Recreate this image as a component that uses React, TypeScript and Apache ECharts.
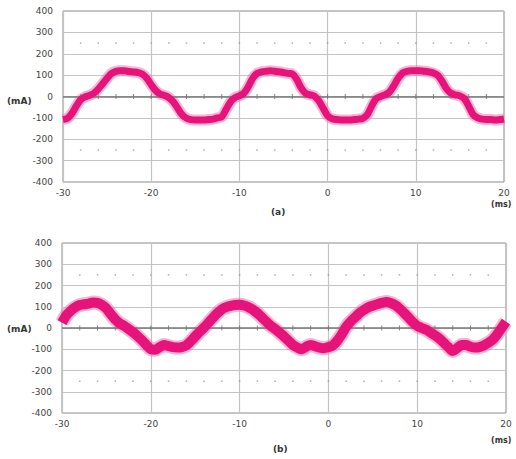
import React, { useEffect, useRef } from "react";
import * as echarts from "echarts";

// time axis (ms), 0.5 ms steps from -30 to 20
const timeMs: number[] = Array.from({ length: 101 }, (_, i) => -30 + i * 0.5);

// (a) current, mA
const currentA: number[] = [
  -108, -102, -80, -45, -15, -2, 5, 15, 35, 60,
  85, 108, 118, 120, 120, 117, 115, 112, 105, 85,
  55, 28, 12, 5, -5, -25, -55, -85, -102, -108,
  -110, -110, -110, -108, -106, -100, -95, -60, -25, -5,
  3, 15, 45, 85, 108, 115, 118, 120, 118, 116,
  112, 108, 105, 80, 40, 15, 8, 2, -20, -55,
  -90, -104, -108, -110, -110, -110, -108, -106, -102, -85,
  -45, -10, 0, 8, 20, 50, 85, 110, 118, 120,
  120, 120, 118, 115, 110, 98, 70, 35, 15, 8,
  3, -10, -45, -85, -100, -106, -108, -108, -110, -108,
  -105,
];

// (b) current, mA
const currentB: number[] = [
  25, 60, 82, 98, 108, 112, 115, 120, 118, 108,
  92, 65, 40, 22, 10, -5, -20, -38, -58, -80,
  -100, -102, -90, -80, -85, -90, -92, -90, -82, -62,
  -40, -18, 2, 25, 48, 70, 88, 98, 104, 108,
  110, 106, 98, 86, 70, 50, 30, 10, -5, -22,
  -40, -60, -80, -92, -100, -88, -80, -86, -92, -95,
  -90, -82, -60, -30, 5, 30, 50, 70, 85, 98,
  105, 112, 118, 122, 118, 108, 92, 72, 50, 28,
  10, 0, -8, -22, -35, -50, -70, -90, -108, -95,
  -80, -80, -88, -92, -90, -82, -70, -55, -30, 0,
  30,
];

const zeroTicks: number[] = [-28, -26, -24, -22, -20, -18, -16, -14, -12, -10, -8, -6, -4, -2, 0, 2, 4, 6, 8, 10, 12, 14, 16, 18];
const dotLevels: number[] = [250, -250];

const FONT = "DejaVu Sans";
const WAVE = "#E6137B";
const FRINGE = "#F07AAF";

function buildGridSeries(idx: number, values: number[], width: number) {
  const pairs = timeMs.map((t, i) => [t, values[i]]);
  const ticks = zeroTicks.map((t) => [t, 0]);
  const dots: number[][] = [];
  dotLevels.forEach((lv) => zeroTicks.forEach((t) => dots.push([t, lv])));
  return [
    {
      type: "scatter",
      xAxisIndex: idx,
      yAxisIndex: idx,
      data: ticks,
      symbol: "rect",
      symbolSize: [1, 5],
      itemStyle: { color: "#666" },
      silent: true,
      z: 2,
      markLine: {
        silent: true,
        symbol: "none",
        label: { show: false },
        lineStyle: { color: "#777", width: 1.5, type: "solid" },
        data: [{ yAxis: 0 }],
      },
    },
    {
      type: "scatter",
      xAxisIndex: idx,
      yAxisIndex: idx,
      data: dots,
      symbol: "rect",
      symbolSize: [1.5, 1.5],
      itemStyle: { color: "#999" },
      silent: true,
      z: 2,
    },
    {
      type: "line",
      xAxisIndex: idx,
      yAxisIndex: idx,
      data: pairs,
      showSymbol: false,
      smooth: 0.3,
      lineStyle: { color: FRINGE, width: width + 4, opacity: 0.55, join: "round", cap: "butt" },
      silent: true,
      z: 4,
    },
    {
      type: "line",
      xAxisIndex: idx,
      yAxisIndex: idx,
      data: pairs,
      showSymbol: false,
      smooth: 0.3,
      lineStyle: { color: WAVE, width: width, join: "round", cap: "butt" },
      silent: true,
      z: 5,
    },
  ];
}

export default function App() {
  const ref = useRef<HTMLDivElement>(null);
  useEffect(() => {
    if (!ref.current) return;
    const chart = echarts.init(ref.current, undefined, { renderer: "svg" });
    const axisLabel = { color: "#444", fontFamily: FONT, fontSize: 9 };
    const xAxisBase = {
      type: "value",
      min: -30,
      max: 20,
      interval: 10,
      axisLine: { show: false },
      axisTick: { show: false },
      axisLabel: { ...axisLabel, margin: 6 },
      splitLine: { show: true, lineStyle: { color: "#c4c4c4", width: 1.2 } },
    };
    const yAxisBase = {
      type: "value",
      min: -400,
      max: 400,
      interval: 100,
      axisLine: { show: false },
      axisTick: { show: false },
      axisLabel: { ...axisLabel, margin: 10 },
      splitLine: { show: true, lineStyle: { color: "#c4c4c4", width: 1.2 } },
    };
    chart.setOption({
      animation: false,
      backgroundColor: "#fff",
      grid: [
        { left: 63, top: 11, width: 441, height: 171, show: true, borderColor: "#8c8c8c", borderWidth: 1, backgroundColor: "transparent" },
        { left: 62, top: 243, width: 444, height: 170, show: true, borderColor: "#8c8c8c", borderWidth: 1, backgroundColor: "transparent" },
      ],
      xAxis: [
        { ...xAxisBase, gridIndex: 0 },
        { ...xAxisBase, gridIndex: 1 },
      ],
      yAxis: [
        { ...yAxisBase, gridIndex: 0 },
        { ...yAxisBase, gridIndex: 1 },
      ],
      series: [...buildGridSeries(0, currentA, 7), ...buildGridSeries(1, currentB, 10)],
      graphic: [
        { type: "text", left: 7, top: 96, style: { text: "(mA)", font: `bold 9px "${FONT}"`, fill: "#333" } },
        { type: "text", left: 7, top: 324, style: { text: "(mA)", font: `bold 9px "${FONT}"`, fill: "#333" } },
        { type: "text", left: 491, top: 200, style: { text: "(ms)", font: `bold 8px "${FONT}"`, fill: "#333" } },
        { type: "text", left: 491, top: 436, style: { text: "(ms)", font: `bold 8px "${FONT}"`, fill: "#333" } },
        { type: "text", left: 271, top: 207, style: { text: "(a)", font: `bold 9px "${FONT}"`, fill: "#333" } },
        { type: "text", left: 273, top: 444, style: { text: "(b)", font: `bold 9px "${FONT}"`, fill: "#333" } },
      ],
    });
    return () => chart.dispose();
  }, []);
  return (
    <div
      ref={ref}
      style={{ position: "fixed", left: 0, top: 0, width: 516, height: 459, background: "#fff" }}
    />
  );
}
